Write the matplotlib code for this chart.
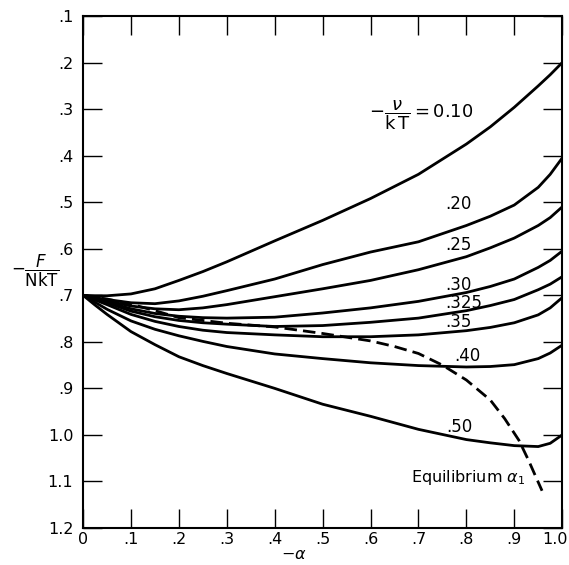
import numpy as np
import matplotlib
matplotlib.use("Agg")
import matplotlib.pyplot as plt
from matplotlib.transforms import ScaledTranslation

plt.rcParams["mathtext.fontset"] = "dejavusans"

# -alpha grid shared by the free-energy curves
alpha = [0, .025, .05, .1, .15, .2, .25, .3, .4, .5, .6, .7, .8, .85, .9, .95, .975, 1.0]

# -F/NkT for each -nu/kT
f_010 = [.700, .701, .701, .697, .686, .668, .649, .628, .583, .539, .492, .440, .375, .338, .296, .250, .226, .200]
f_020 = [.700, .705, .709, .716, .718, .712, .702, .690, .665, .634, .607, .585, .550, .530, .506, .468, .440, .405]
f_025 = [.700, .706, .712, .723, .729, .731, .727, .720, .703, .686, .668, .645, .617, .598, .577, .550, .533, .510]
f_030 = [.700, .707, .714, .729, .739, .745, .748, .749, .747, .738, .727, .713, .694, .681, .665, .640, .625, .605]
f_0325 = [.700, .708, .716, .734, .746, .754, .759, .762, .767, .765, .758, .749, .733, .722, .709, .688, .676, .660]
f_035 = [.700, .710, .720, .741, .756, .767, .775, .780, .785, .789, .789, .785, .776, .769, .759, .742, .727, .705]
f_040 = [.700, .715, .730, .755, .773, .787, .799, .810, .826, .836, .845, .851, .854, .853, .849, .836, .824, .807]
f_050 = [.700, .721, .741, .778, .806, .832, .851, .868, .900, .934, .960, .988, 1.010, 1.017, 1.023, 1.025, 1.018, 1.000]

curves = [f_010, f_020, f_025, f_030, f_0325, f_035, f_040, f_050]

# equilibrium alpha_1 (dashed)
eq_alpha = [0, .05, .1, .15, .2, .3, .4, .5, .6, .65, .7, .75, .8, .85, .88, .91, .93, .945, .958]
eq_f = [.700, .708, .719, .733, .748, .760, .768, .782, .798, .810, .825, .850, .882, .925, .965, 1.012, 1.055, 1.090, 1.120]

# curve labels: text, x, y
lab_text = [".20", ".25", ".30", ".325", ".35", ".40", ".50"]
lab_x = [.783, .783, .783, .795, .783, .803, .785]
lab_y = [.504, .592, .678, .716, .757, .830, .983]

xticks = [0, .1, .2, .3, .4, .5, .6, .7, .8, .9, 1.0]
xtick_labels = ["0", ".1", ".2", ".3", ".4", ".5", ".6", ".7", ".8", ".9", "1.0"]
yticks = [.1, .2, .3, .4, .5, .6, .7, .8, .9, 1.0, 1.1, 1.2]
ytick_labels = [".1", ".2", ".3", ".4", ".5", ".6", ".7", ".8", ".9", "1.0", "1.1", "1.2"]

fig = plt.figure(figsize=(5.69, 5.65), dpi=100)
ax = fig.add_axes([0.146, 0.0655, 0.842, 0.906])

for f in curves:
    ax.plot(alpha, f, color="black", lw=2.0, solid_capstyle="round", solid_joinstyle="round")

ax.plot(eq_alpha, eq_f, color="black", lw=2.0, dashes=(4.5, 2.2))

for t, x, y in zip(lab_text, lab_x, lab_y):
    ax.text(x, y, t, ha="center", va="center", fontsize=12)

ax.text(.705, .313, r"$-\dfrac{\nu}{\mathrm{k\,T}}=\mathrm{0.10}$", ha="center", va="center", fontsize=13)
ax.text(.684, 1.102, r"Equilibrium $\alpha_{\mathrm{1}}$", ha="left", va="baseline", fontsize=11.5)

ax.set_xlim(0, 1.0)
ax.set_ylim(1.2, 0.1)
ax.set_xticks(xticks)
ax.set_xticklabels(xtick_labels)
ax.set_yticks(yticks)
ax.set_yticklabels(ytick_labels)
ax.tick_params(direction="in", length=14, width=1.0, top=True, right=True, labelsize=11.5)
ax.tick_params(axis="x", pad=3)
ax.tick_params(axis="y", pad=7)
for s in ax.spines.values():
    s.set_linewidth(1.5)

# last x label sits tight against the figure edge
last = ax.get_xticklabels()[-1]
last.set_transform(last.get_transform() + ScaledTranslation(-5 / 72, 0, fig.dpi_scale_trans))

ax.text(-0.10, 0.502, r"$-\dfrac{F}{\mathrm{NkT}}$", transform=ax.transAxes,
        ha="center", va="center", fontsize=12)
ax.text(0.44, -0.052, r"$-\alpha$", transform=ax.transAxes,
        ha="center", va="center", fontsize=11.5)

fig.savefig("out.png", dpi=100)
